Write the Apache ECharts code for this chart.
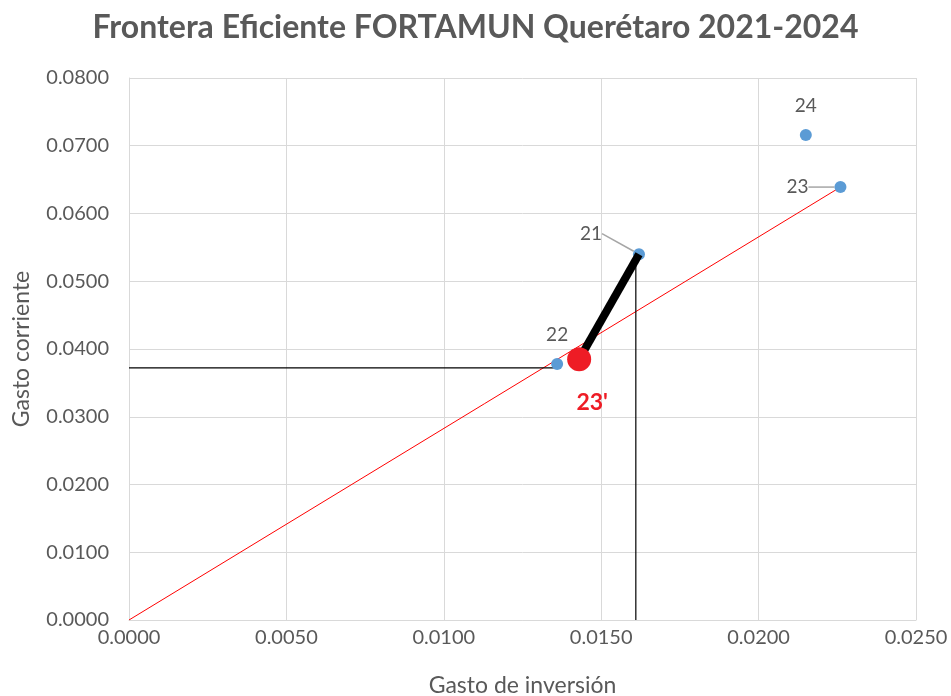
<!DOCTYPE html>
<html>
<head>
<meta charset="utf-8">
<script src="https://cdn.jsdelivr.net/npm/echarts@6/dist/echarts.min.js"></script>
<style>
  html, body { margin: 0; padding: 0; background: #fff; }
  #chart { width: 951px; height: 696px; }
</style>
</head>
<body>
<div id="chart"></div>
<script>
// years and their (inversion, corriente) points
const yearLabels = ['21', '22', '23', '24']
const pointsInv = [0.0162, 0.0136, 0.0226, 0.0215]
const pointsCorr = [0.0540, 0.0378, 0.0639, 0.0716]

// projected efficient point 23'
const projLabel = "23'"
const projPoint = [0.0143, 0.0385]

// frontier ray from origin through 23
const frontier = [[0, 0], [0.0226, 0.0639]]
// guide lines
const guideH = [[0, 0.0372], [0.0136, 0.0372]]
const guideV = [[0.0161, 0.0525], [0.0161, 0]]
// movement 21 -> 23'
const moveLine = [[0.0162, 0.0540], [0.0143, 0.0385]]

const textColor = '#595959'
const font = 'Lato, "Open Sans", sans-serif'

const chart = echarts.init(document.getElementById('chart'))

const labelShift = { 0: { dx: -48, dy: 0 }, 2: { dx: -21, dy: 0 } }

const option = {
  animation: false,
  title: {
    text: 'Frontera Eficiente FORTAMUN Querétaro 2021-2024',
    left: 'center',
    top: 7,
    textStyle: { color: textColor, fontSize: 32, fontWeight: 'bold', fontFamily: font }
  },
  grid: { left: 129, right: 35, top: 78, bottom: 76, outerBoundsMode: 'none' },
  xAxis: {
    type: 'value',
    min: 0,
    max: 0.025,
    interval: 0.005,
    name: 'Gasto de inversión',
    nameLocation: 'middle',
    nameGap: 54,
    nameTextStyle: { color: textColor, fontSize: 23, fontFamily: font },
    axisLine: { show: true, lineStyle: { color: '#d9d9d9' } },
    axisTick: { show: false },
    axisLabel: { color: textColor, fontSize: 20, fontFamily: font, margin: 8, formatter: v => v.toFixed(4) },
    splitLine: { lineStyle: { color: '#d9d9d9', width: 1 } }
  },
  yAxis: {
    type: 'value',
    min: 0,
    max: 0.08,
    interval: 0.01,
    name: 'Gasto corriente',
    nameLocation: 'middle',
    nameGap: 96,
    nameTextStyle: { color: textColor, fontSize: 23, fontFamily: font },
    axisLine: { show: true, lineStyle: { color: '#d9d9d9' } },
    axisTick: { show: false },
    axisLabel: { color: textColor, fontSize: 20, fontFamily: font, margin: 20, formatter: v => v.toFixed(4) },
    splitLine: { lineStyle: { color: '#d9d9d9', width: 1 } }
  },
  series: [
    {
      type: 'line',
      data: frontier,
      showSymbol: false,
      silent: true,
      lineStyle: { color: '#ff0000', width: 1 },
      z: 2
    },
    {
      type: 'line',
      data: guideH,
      showSymbol: false,
      lineStyle: { color: '#000', width: 1.2 },
      z: 2
    },
    {
      type: 'line',
      data: guideV,
      showSymbol: false,
      lineStyle: { color: '#000', width: 1.2 },
      z: 2
    },
    {
      type: 'scatter',
      data: pointsInv.map((x, i) => ({
        value: [x, pointsCorr[i]],
        label: {
          position: i === 2 ? 'left' : 'top',
          distance: i === 0 ? 5 : (i === 2 ? 5 : 14)
        },
        labelLine: { show: i === 0 || i === 2 }
      })),
      symbolSize: 12,
      itemStyle: { color: '#5b9bd5', opacity: 1 },
      label: {
        show: true,
        formatter: p => yearLabels[p.dataIndex],
        color: textColor,
        fontSize: 19,
        fontFamily: font
      },
      labelLine: { lineStyle: { color: '#a6a6a6', width: 1.5 } },
      labelLayout: p => labelShift[p.dataIndex] || {},
      z: 3
    },
    {
      type: 'line',
      data: moveLine,
      showSymbol: false,
      lineStyle: { color: '#000', width: 8 },
      z: 4
    },
    {
      type: 'scatter',
      data: [projPoint],
      symbolSize: 24,
      itemStyle: { color: '#ee1c25', opacity: 1 },
      label: {
        show: true,
        position: 'bottom',
        distance: 20,
        formatter: projLabel,
        color: '#ee1c25',
        fontSize: 23,
        fontWeight: 'bold',
        fontFamily: font,
        offset: [13, 0]
      },
      z: 5
    }
  ]
}

chart.setOption(option)
</script>
</body>
</html>
